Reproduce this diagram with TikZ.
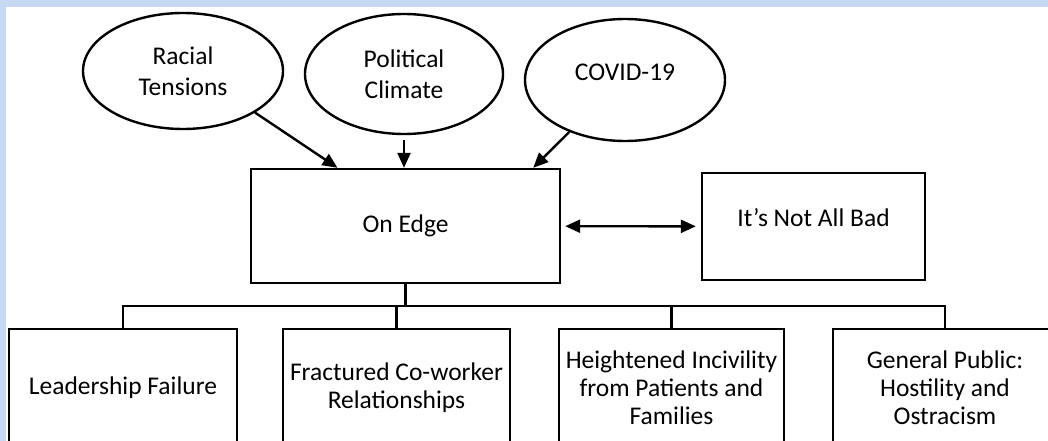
\documentclass[tikz,border=0pt]{standalone}
\usepackage{fontspec}
\setmainfont{Carlito}
\usetikzlibrary{shapes.geometric,arrows.meta,calc}

\begin{document}
\begin{tikzpicture}[x=1pt,y=-1pt,line width=2.4pt,
    font=\fontsize{25.5}{28}\selectfont]
  % Colors
  \definecolor{framecolor}{RGB}{198,217,240}

  % Styles
  \tikzstyle{cause}=[draw,ellipse,align=center,inner sep=0pt,
    font=\fontsize{25.5}{31}\selectfont]
  \tikzstyle{theme}=[draw,rectangle,align=center,inner sep=2pt]
  \tikzstyle{arr}=[-{Triangle[length=15pt,width=13pt]}]

  % Frame
  \fill[framecolor] (0,0) rectangle (1048,441);
  \fill[white] (6,7) rectangle (1048,441);
  \useasboundingbox (0,0) rectangle (1048,441);

  % Causes
  \node[cause,minimum width=200pt,minimum height=116pt] (racial) at (183,71) {Racial\\Tensions};
  \node[cause,minimum width=198pt,minimum height=120pt] (political) at (404,74) {Political\\Climate};
  \node[cause,minimum width=200pt,minimum height=122pt,text depth=16pt] (covid) at (625,80) {COVID-19};

  % Central themes
  \node[theme,minimum width=309pt,minimum height=114pt] (edge) at (405.5,226) {On Edge};
  \node[theme,minimum width=223pt,minimum height=107pt,text depth=17pt] (notbad) at (813.5,226.5) {It’s Not All Bad};

  % Subthemes
  \node[theme,minimum width=228pt,minimum height=117pt] (leader) at (123,387.5) {Leadership Failure};
  \node[theme,minimum width=227pt,minimum height=117pt] (coworker) at (396.5,387.5) {Fractured Co-worker\\Relationships};
  \node[theme,minimum width=225pt,minimum height=117pt] (incivility) at (671.5,387.5) {Heightened Incivility\\from Patients and\\Families};
  \node[theme,minimum width=224pt,minimum height=117pt] (public) at (945,387.5) {General Public:\\Hostility and\\Ostracism};

  % Arrows
  \draw[arr] (racial.-30) -- ($(edge.north)+(-68,0)$);
  \draw[arr,shorten <=5pt] (political.south) -- (political.south |- edge.north);
  \draw[arr] (covid.-137) -- ($(edge.north east)+(-28,0)$);
  \draw[{Triangle[length=15pt,width=13pt]}-{Triangle[length=15pt,width=13pt]},
    shorten <=4pt,shorten >=5pt] (edge) -- (notbad);

  % Tree
  \draw (edge.south) -- ++(0,22) coordinate (hub);
  \draw (leader.north) -- (leader.north |- hub) -- (public.north |- hub) -- (public.north);
  \foreach \n in {coworker,incivility}
    \draw (\n.north) -- (\n.north |- hub);
\end{tikzpicture}
\end{document}
